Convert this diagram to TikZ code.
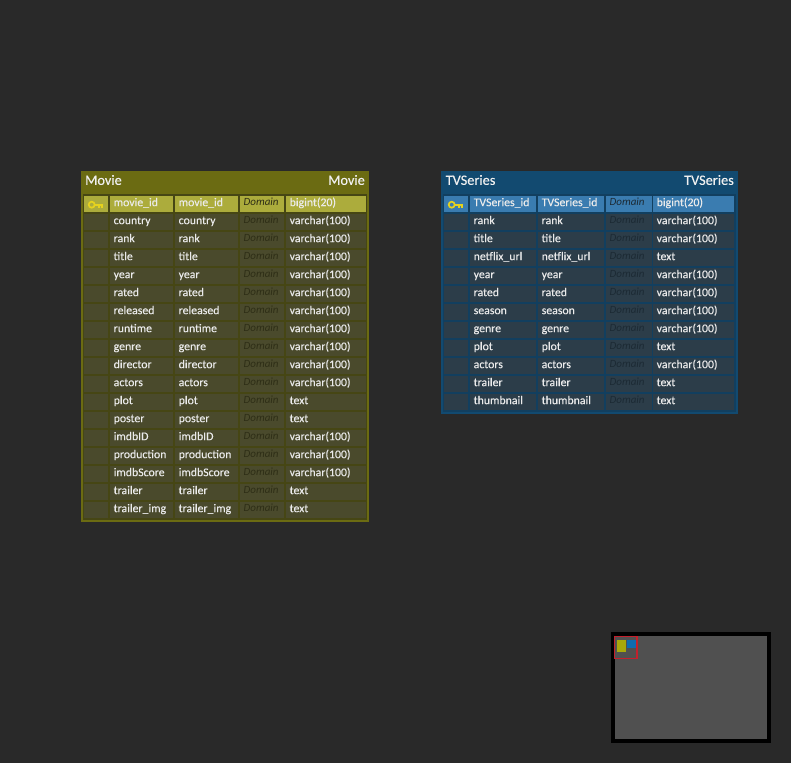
\documentclass[tikz,border=0pt]{standalone}
\usepackage{fontspec}
\setmainfont{Carlito}
\newfontfamily\cellfont[FakeBold=0.2]{Carlito}
\definecolor{canvasbg}{HTML}{292929}
\definecolor{olivehead}{HTML}{6B6B12}
\definecolor{olivegap}{HTML}{464614}
\definecolor{olivecell}{HTML}{4A4A2C}
\definecolor{olivekey}{HTML}{ACAC3C}
\definecolor{olivedom}{HTML}{2E2E16}
\definecolor{bluehead}{HTML}{124A70}
\definecolor{bluegap}{HTML}{123F5F}
\definecolor{bluecell}{HTML}{2C3D49}
\definecolor{bluekey}{HTML}{3A7CB0}
\definecolor{bluedom}{HTML}{1C2A34}
\definecolor{keygold}{HTML}{E6D21E}
\definecolor{miniyellow}{HTML}{A8A80A}
\definecolor{miniblue}{HTML}{0F6CB0}
\definecolor{minired}{HTML}{C4202C}
\tikzset{
  cell/.style={anchor=north west,inner xsep=3.5pt,inner ysep=0pt,minimum height=16pt,text=white!92!black,
    font=\cellfont\fontsize{11.8}{12}\selectfont,align=left,text height=8pt,text depth=4.1pt},
  domaincell/.style={cell,font=\fontsize{11}{12}\selectfont\itshape,text depth=2.5pt},
  title/.style={text=white!94!black,inner sep=0pt,font=\cellfont\fontsize{14.3}{15}\selectfont},
}
% one row of a table: prefix, row number, name, type, fill, domain colour
\newcommand{\dbrow}[6]{
  \pgfmathsetmacro{\rowtop}{196+18*#2}
  \node[cell,fill=#5,minimum width=\cwa pt,text width=\cwa pt-7pt] (#1-#2-key) at (\cxa,\rowtop) {};
  \node[cell,fill=#5,minimum width=\cwb pt,text width=\cwb pt-7pt] (#1-#2-name) at (\cxb,\rowtop) {#3};
  \node[cell,fill=#5,minimum width=\cwc pt,text width=\cwc pt-7pt] (#1-#2-phys) at (\cxc,\rowtop) {#3};
  \node[domaincell,fill=#5,minimum width=\cwd pt,text width=\cwd pt-7pt,text=#6] (#1-#2-dom) at (\cxd,\rowtop) {\raisebox{1pt}{Domain}};
  \node[cell,fill=#5,minimum width=\cwe pt,text width=\cwe pt-7pt] (#1-#2-type) at (\cxe,\rowtop) {#4};
}
% key symbol
\newcommand{\keyicon}[1]{
  \draw[keygold,line width=1.7pt] ([xshift=-4.5pt,yshift=-0.5pt]#1.center) circle (3pt);
  \draw[keygold,line width=1.7pt] ([xshift=-1.5pt,yshift=-0.5pt]#1.center) -- ([xshift=7pt,yshift=-0.5pt]#1.center);
  \draw[keygold,line width=1.5pt] ([xshift=3pt,yshift=-0.5pt]#1.center) -- ([xshift=3pt,yshift=-4pt]#1.center);
  \draw[keygold,line width=1.5pt] ([xshift=6pt,yshift=-0.5pt]#1.center) -- ([xshift=6pt,yshift=-3.5pt]#1.center);
}
\begin{document}
\begin{tikzpicture}[x=1pt,y=-1pt]
\useasboundingbox (0,0) rectangle (791,763);
\fill[canvasbg] (0,0) rectangle (791,763);

\fill[olivegap] (81,171) rectangle (369,522);
\fill[olivehead] (81,171) rectangle (369,194);
\draw[olivehead,line width=2pt] (82,172) rectangle (368,521);
\node[title,anchor=west] (movietitle) at (85,180) {Movie};
\node[title,anchor=east] (moviename) at (365,180) {Movie};
\def\cxa{84}\def\cwa{24}
\def\cxb{110}\def\cwb{63}
\def\cxc{175}\def\cwc{63}
\def\cxd{240}\def\cwd{44}
\def\cxe{286}\def\cwe{80}
\dbrow{m}{0}{movie\_id}{bigint(20)}{olivekey}{olivedom}
\foreach \i/\nm/\ty in {1/country/varchar(100),2/rank/varchar(100),3/title/varchar(100),4/year/varchar(100),
  5/rated/varchar(100),6/released/varchar(100),7/runtime/varchar(100),8/genre/varchar(100),9/director/varchar(100),
  10/actors/varchar(100),11/plot/text,12/poster/text,13/imdbID/varchar(100),14/production/varchar(100),
  15/imdbScore/varchar(100),16/trailer/text,17/trailer\_img/text}
  {\dbrow{m}{\i}{\nm}{\ty}{olivecell}{olivedom}}
\keyicon{m-0-key}

\fill[bluegap] (441,171) rectangle (738,414);
\fill[bluehead] (441,171) rectangle (738,194);
\draw[bluehead,line width=2pt] (442,172) rectangle (737,413);
\node[title,anchor=west] (tvtitle) at (445.5,180) {TVSeries};
\node[title,anchor=east] (tvname) at (734,180) {TVSeries};
\def\cxa{444}\def\cwa{24}
\def\cxb{470}\def\cwb{66}
\def\cxc{538}\def\cwc{66}
\def\cxd{606}\def\cwd{46}
\def\cxe{653}\def\cwe{81}
\dbrow{t}{0}{TVSeries\_id}{bigint(20)}{bluekey}{bluedom}
\foreach \i/\nm/\ty in {1/rank/varchar(100),2/title/varchar(100),3/netflix\_url/text,4/year/varchar(100),
  5/rated/varchar(100),6/season/varchar(100),7/genre/varchar(100),8/plot/text,9/actors/varchar(100),
  10/trailer/text,11/thumbnail/text}
  {\dbrow{t}{\i}{\nm}{\ty}{bluecell}{bluedom}}
\keyicon{t-0-key}

% overview
\draw[black,line width=4pt,fill=black] (613,634) rectangle (769,741);
\fill[black!68.5!white] (615,636) rectangle (767,739);
\fill[miniyellow] (617,640) rectangle (626,652);
\fill[miniblue] (627,640) rectangle (636,648);
\draw[minired,line width=1.2pt] (614.5,636.3) rectangle (637,658.5);
\end{tikzpicture}
\end{document}
